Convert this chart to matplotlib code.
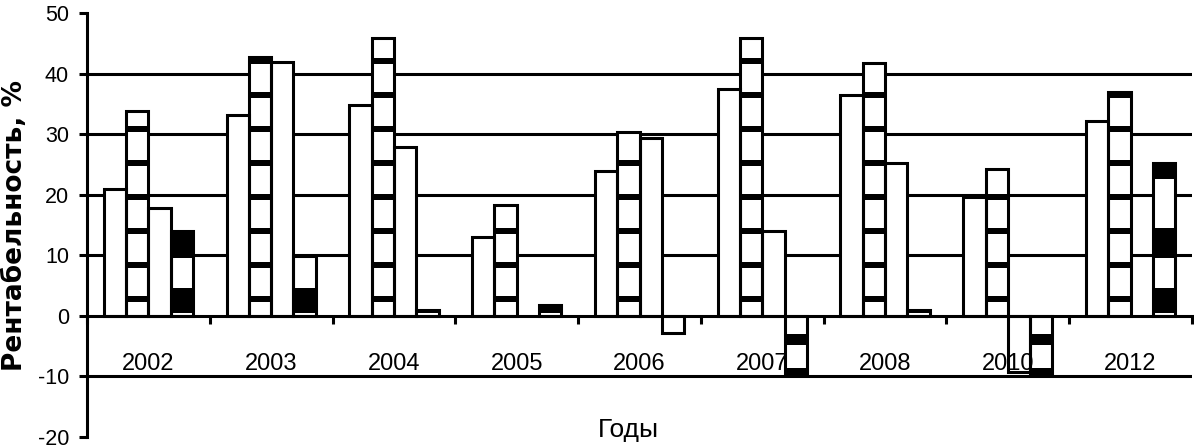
# -*- coding: utf-8 -*-
import numpy as np
import matplotlib
matplotlib.use("Agg")
import matplotlib.pyplot as plt

# данные
years = ["2002", "2003", "2004", "2005", "2006", "2007", "2008", "2010", "2012"]
series1 = [21.0, 33.2, 34.8, 13.0, 23.9, 37.5, 36.5, 19.7, 32.2]
series2 = [33.8, 42.7, 45.9, 18.3, 30.4, 45.9, 41.7, 24.2, 37.0]
series3 = [17.8, 41.9, 27.9, np.nan, 29.4, 14.0, 25.2, -9.2, np.nan]
series4 = [14.0, 9.8, 1.0, 1.8, -2.8, -9.6, 1.0, -9.4, 25.2]

y_ticks = [-20, -10, 0, 10, 20, 30, 40, 50]
grid_levels = [-10, 10, 20, 30, 40]

# "узоры" заливки: полосы в единицах оси y
stripes2 = [(2.8 + 5.6 * k - 0.5, 2.8 + 5.6 * k + 0.5) for k in range(9)]
stripes4 = [(-9.4, -8.6), (-4.8, -3.0), (0.4, 4.6), (9.5, 14.5), (22.6, 25.5)]

plt.rcParams['font.family'] = ["Liberation Sans", "DejaVu Sans"]

fig = plt.figure(figsize=(11.94, 4.48), dpi=100)
ax = fig.add_axes([87 / 1194, 11 / 448, 1105 / 1194, 424 / 448])

x = np.arange(len(years))
w = 1 / 5.5
lw = 2.2


# полосы внутри столбика (обрезаем по высоте столбика)
def draw_stripes(xpos, values, bands):
    for xi, v in zip(xpos, values):
        if np.isnan(v):
            continue
        low, high = min(0, v), max(0, v)
        for b0, b1 in bands:
            lo, hi = max(b0, low), min(b1, high)
            if hi > lo:
                ax.bar(xi, hi - lo, bottom=lo, width=w, color="black",
                       linewidth=0, zorder=1.1)


all_series = [series1, series2, series3, series4]
patterns = [None, stripes2, None, stripes4]
for i, (vals, pat) in enumerate(zip(all_series, patterns)):
    xpos = x + (i - 1.5) * w
    vals = np.array(vals, dtype=float)
    ax.bar(xpos, np.nan_to_num(vals), width=w, color="white",
           edgecolor="none", zorder=1)
    if pat is not None:
        draw_stripes(xpos, vals, pat)
    ax.bar(xpos, vals, width=w, fill=False, edgecolor="black",
           linewidth=lw, zorder=3.2)

for g in grid_levels:
    ax.axhline(g, color="black", linewidth=lw, zorder=0.5)

ax.set_xlim(-0.5, len(years) - 0.5)
ax.set_ylim(-20, 50)
ax.set_axisbelow('line')

ax.spines['top'].set_visible(False)
ax.spines['right'].set_visible(False)
ax.spines['bottom'].set_position(('data', 0))
ax.spines['bottom'].set_linewidth(lw)
ax.spines['left'].set_linewidth(lw)
ax.spines['bottom'].set_zorder(3.5)

ax.set_yticks(y_ticks)
ax.set_yticklabels([str(t) for t in y_ticks])
ax.tick_params(axis='y', direction='out', length=6, width=lw,
               labelsize=15.5, pad=7)

ax.set_xticks(x)
ax.set_xticklabels(years)
ax.set_xticks(np.arange(len(years) + 1) - 0.5, minor=True)
ax.tick_params(axis='x', which='major', length=0, labelsize=17, pad=27)
ax.tick_params(axis='x', which='minor', direction='out', length=6, width=lw)

fig.text(15 / 1194, 1 - 225 / 448, "Рентабельность, %", rotation=90,
         ha="center", va="center", fontsize=19, fontweight="bold",
         family=["DejaVu Sans"])
fig.text(628 / 1194, 1 - 430 / 448, "Годы", ha="center", va="center",
         fontsize=19)

fig.savefig("out.png", dpi=100)
